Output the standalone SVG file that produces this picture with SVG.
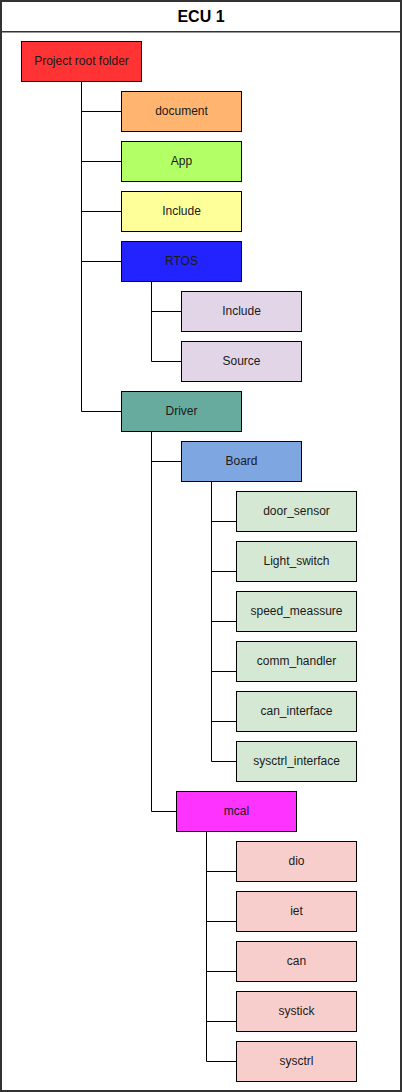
<svg xmlns="http://www.w3.org/2000/svg" width="402" height="1092" viewBox="0 0 402 1092">
<style>
.box{stroke:#000;stroke-width:1}
.lbl{font-family:"Liberation Sans",Arial,Helvetica,sans-serif;font-size:12px;fill:#1a1a1a;text-anchor:middle}
.edge{fill:none;stroke:#000;stroke-width:1}
</style>
<rect x="0" y="0" width="402" height="1092" fill="#ffffff"/>
<g id="frame">
<rect x="1" y="1" width="400" height="1090" fill="#ffffff" stroke="#333333" stroke-width="2"/>
<line x1="1" y1="31.7" x2="401" y2="31.7" stroke="#333333" stroke-width="1.5"/>
<text x="201" y="21.5" style="font-family:'Liberation Sans',Arial,Helvetica,sans-serif;font-size:16px;font-weight:bold;fill:#000;text-anchor:middle">ECU 1</text>
</g>
<g id="connectors">
<path class="edge" d="M81.5 81.5 V411.5 H121.5 M81.5 111.5 H121.5 M81.5 161.5 H121.5 M81.5 211.5 H121.5 M81.5 261.5 H121.5"/>
<path class="edge" d="M151.5 281.5 V361.5 H181.5 M151.5 311.5 H181.5"/>
<path class="edge" d="M151.5 431.5 V811.5 H176.5 M151.5 461.5 H181.5"/>
<path class="edge" d="M211.5 481.5 V761.5 H236.5 M211.5 521.5 H236.5 M211.5 571.5 H236.5 M211.5 621.5 H236.5 M211.5 671.5 H236.5 M211.5 721.5 H236.5"/>
<path class="edge" d="M206.5 831.5 V1061.5 H236.5 M206.5 871.5 H236.5 M206.5 921.5 H236.5 M206.5 971.5 H236.5 M206.5 1021.5 H236.5"/>
</g>
<g id="root"><rect class="box" x="21.5" y="41.5" width="120" height="40" fill="#FF3333"/><text class="lbl" x="81.5" y="64.5">Project root folder</text></g>
<g id="document"><rect class="box" x="121.5" y="91.5" width="120" height="40" fill="#FFB570"/><text class="lbl" x="181.5" y="114.5">document</text></g>
<g id="app"><rect class="box" x="121.5" y="141.5" width="120" height="40" fill="#B3FF66"/><text class="lbl" x="181.5" y="164.5">App</text></g>
<g id="include"><rect class="box" x="121.5" y="191.5" width="120" height="40" fill="#FFFF99"/><text class="lbl" x="181.5" y="214.5">Include</text></g>
<g id="rtos"><rect class="box" x="121.5" y="241.5" width="120" height="40" fill="#2323FF"/><text class="lbl" x="181.5" y="264.5">RTOS</text></g>
<g id="rtos-include"><rect class="box" x="181.5" y="291.5" width="120" height="40" fill="#E1D5E7"/><text class="lbl" x="241.5" y="314.5">Include</text></g>
<g id="rtos-source"><rect class="box" x="181.5" y="341.5" width="120" height="40" fill="#E1D5E7"/><text class="lbl" x="241.5" y="364.5">Source</text></g>
<g id="driver"><rect class="box" x="121.5" y="391.5" width="120" height="40" fill="#67AB9F"/><text class="lbl" x="181.5" y="414.5">Driver</text></g>
<g id="board"><rect class="box" x="181.5" y="441.5" width="120" height="40" fill="#7EA6E0"/><text class="lbl" x="241.5" y="464.5">Board</text></g>
<g id="door_sensor"><rect class="box" x="236.5" y="491.5" width="120" height="40" fill="#D5E8D4"/><text class="lbl" x="296.5" y="514.5">door_sensor</text></g>
<g id="light_switch"><rect class="box" x="236.5" y="541.5" width="120" height="40" fill="#D5E8D4"/><text class="lbl" x="296.5" y="564.5">Light_switch</text></g>
<g id="speed_meassure"><rect class="box" x="236.5" y="591.5" width="120" height="40" fill="#D5E8D4"/><text class="lbl" x="296.5" y="614.5">speed_meassure</text></g>
<g id="comm_handler"><rect class="box" x="236.5" y="641.5" width="120" height="40" fill="#D5E8D4"/><text class="lbl" x="296.5" y="664.5">comm_handler</text></g>
<g id="can_interface"><rect class="box" x="236.5" y="691.5" width="120" height="40" fill="#D5E8D4"/><text class="lbl" x="296.5" y="714.5">can_interface</text></g>
<g id="sysctrl_interface"><rect class="box" x="236.5" y="741.5" width="120" height="40" fill="#D5E8D4"/><text class="lbl" x="296.5" y="764.5">sysctrl_interface</text></g>
<g id="mcal"><rect class="box" x="176.5" y="791.5" width="120" height="40" fill="#FF33FF"/><text class="lbl" x="236.5" y="814.5">mcal</text></g>
<g id="dio"><rect class="box" x="236.5" y="841.5" width="120" height="40" fill="#F8CECC"/><text class="lbl" x="296.5" y="864.5">dio</text></g>
<g id="iet"><rect class="box" x="236.5" y="891.5" width="120" height="40" fill="#F8CECC"/><text class="lbl" x="296.5" y="914.5">iet</text></g>
<g id="can"><rect class="box" x="236.5" y="941.5" width="120" height="40" fill="#F8CECC"/><text class="lbl" x="296.5" y="964.5">can</text></g>
<g id="systick"><rect class="box" x="236.5" y="991.5" width="120" height="40" fill="#F8CECC"/><text class="lbl" x="296.5" y="1014.5">systick</text></g>
<g id="sysctrl"><rect class="box" x="236.5" y="1041.5" width="120" height="40" fill="#F8CECC"/><text class="lbl" x="296.5" y="1064.5">sysctrl</text></g>
</svg>
